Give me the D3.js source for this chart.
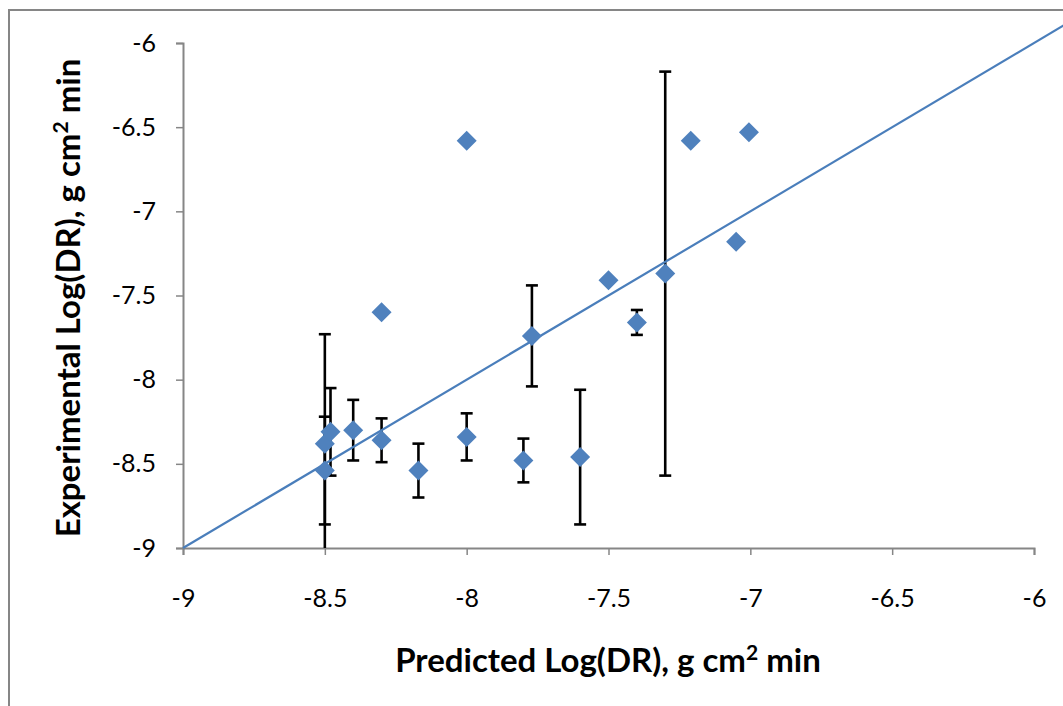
<!DOCTYPE html>
<html>
<head>
<meta charset="utf-8">
<script src="https://cdn.jsdelivr.net/npm/d3@7"></script>
<style>
  body { margin: 0; background: #fff; }
  svg { display: block; font-family: Lato, "Open Sans", sans-serif; }
</style>
</head>
<body>
<div id="chart"></div>
<script>
// predicted vs experimental log(DR)
const predicted    = [-8.50, -8.50, -8.48, -8.40, -8.30, -8.17, -8.00, -7.80, -7.60, -7.77, -7.50, -7.40, -7.30, -7.21, -7.005, -7.05, -8.00, -8.30];
const experimental = [-8.38, -8.54, -8.31, -8.30, -8.36, -8.54, -8.34, -8.48, -8.46, -7.74, -7.41, -7.66, -7.37, -6.58, -6.53, -7.18, -6.58, -7.60];
const errors       = [0.65, 0.32, 0.26, 0.18, 0.13, 0.16, 0.14, 0.13, 0.40, 0.30, 0, 0.074, 1.20, 0, 0, 0, 0, 0];
const ticks = [-9, -8.5, -8, -7.5, -7, -6.5, -6];
const parity = [-9, -5.8];

const W = 1063, H = 706;
const margin = {top: 43, right: 29, bottom: 158, left: 183};

const svg = d3.select('#chart').append('svg')
    .attr('width', W)
    .attr('height', H);

// outer chart frame (runs off the right and bottom edges)
svg.append('rect')
    .attr('x', 9).attr('y', 10)
    .attr('width', W + 20).attr('height', H + 20)
    .attr('fill', 'none')
    .attr('stroke', '#868686')
    .attr('stroke-width', 2);

const x = d3.scaleLinear().domain([-9, -6]).range([margin.left, W - margin.right]);
const y = d3.scaleLinear().domain([-9, -6]).range([H - margin.bottom, margin.top]);

const axisColor = '#868686';

const xAxis = svg.append('g')
    .attr('transform', `translate(0,${y(-9)})`)
    .call(d3.axisBottom(x).tickValues(ticks).tickSize(7).tickPadding(34).tickFormat(d => String(d)));

const yAxis = svg.append('g')
    .attr('transform', `translate(${x(-9)},0)`)
    .call(d3.axisLeft(y).tickValues(ticks).tickSize(7).tickPadding(20).tickFormat(d => String(d)));

[xAxis, yAxis].forEach(a => {
    a.select('.domain').attr('stroke', axisColor).attr('stroke-width', 2);
    a.selectAll('.tick line').attr('stroke', axisColor).attr('stroke-width', 1.5);
    a.selectAll('.tick text')
        .attr('fill', '#000')
        .style('font-size', '25px')
        .style('font-family', 'Lato, "Open Sans", sans-serif');
});

// error bars, clipped to the plot area
svg.append('clipPath').attr('id', 'plot-clip')
  .append('rect')
    .attr('x', x(-9)).attr('y', y(-6) - 30)
    .attr('width', W).attr('height', y(-9) - y(-6) + 30);

const data = predicted.map((p, i) => ({p, e: experimental[i], err: errors[i]}));

const bars = svg.append('g').attr('clip-path', 'url(#plot-clip)')
    .selectAll('g.err')
    .data(data.filter(d => d.err > 0))
    .join('g')
    .attr('class', 'err')
    .attr('stroke', '#000')
    .attr('stroke-width', 2.6);

bars.append('line')
    .attr('x1', d => x(d.p)).attr('x2', d => x(d.p))
    .attr('y1', d => y(d.e + d.err)).attr('y2', d => y(d.e - d.err));
bars.append('line')
    .attr('x1', d => x(d.p) - 6).attr('x2', d => x(d.p) + 6)
    .attr('y1', d => y(d.e + d.err)).attr('y2', d => y(d.e + d.err));
bars.append('line')
    .attr('x1', d => x(d.p) - 6).attr('x2', d => x(d.p) + 6)
    .attr('y1', d => y(d.e - d.err)).attr('y2', d => y(d.e - d.err));

// 1:1 line
svg.append('path')
    .datum(parity)
    .attr('fill', 'none')
    .attr('stroke', '#4A7EBB')
    .attr('stroke-width', 2.2)
    .attr('d', d3.line().x(d => x(d)).y(d => y(d)));

// diamond markers
const diamond = d3.symbol().type(d3.symbolSquare).size(200);
svg.append('g').selectAll('path')
    .data(data)
    .join('path')
    .attr('d', diamond)
    .attr('transform', d => `translate(${x(d.p)},${y(d.e)}) rotate(45)`)
    .attr('fill', '#4F81BD');

// axis titles
const xt = svg.append('text')
    .attr('x', 608).attr('y', 672)
    .attr('text-anchor', 'middle')
    .style('font-size', '33px')
    .style('font-weight', 'bold');
xt.append('tspan').text('Predicted Log(DR), g cm');
xt.append('tspan').text('2').attr('dy', -12).style('font-size', '21px');
xt.append('tspan').text(' min').attr('dy', 12);

const yt = svg.append('text')
    .attr('transform', 'translate(80,298) rotate(-90)')
    .attr('text-anchor', 'middle')
    .style('font-size', '33px')
    .style('font-weight', 'bold');
yt.append('tspan').text('Experimental Log(DR), g cm');
yt.append('tspan').text('2').attr('dy', -12).style('font-size', '21px');
yt.append('tspan').text(' min').attr('dy', 12);
</script>
</body>
</html>
